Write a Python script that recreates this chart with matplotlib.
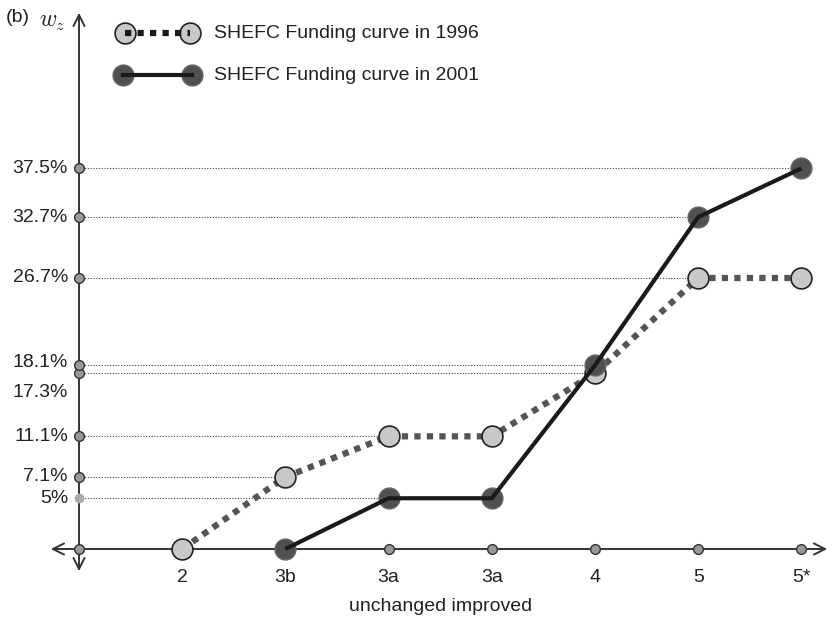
import numpy as np
import matplotlib.pyplot as plt

plt.rcParams["font.family"] = ["Liberation Sans", "DejaVu Sans"]
plt.rcParams["mathtext.fontset"] = "cm"

categories = ["2", "3b", "3a", "3a", "4", "5", "5*"]
funding_1996 = [0.0, 7.1, 11.1, 11.1, 17.3, 26.7, 26.7]
funding_2001 = [np.nan, 0.0, 5.0, 5.0, 18.1, 32.7, 37.5]
y_levels = [5.0, 7.1, 11.1, 17.3, 18.1, 26.7, 32.7, 37.5]
y_labels = ["5%", "7.1%", "11.1%", "17.3%", "18.1%", "26.7%", "32.7%", "37.5%"]
label_1996 = "SHEFC Funding curve in 1996"
label_2001 = "SHEFC Funding curve in 2001"

W, H = 835, 623
X0, XS = 79, 103.2      # pixel of origin, pixels per category
Y0, YS = 549, 10.15     # pixel of zero, pixels per percent
FS = 14

fig = plt.figure(figsize=(W / 100, H / 100), dpi=100)
ax = fig.add_axes([0, 0, 1, 1])
ax.set_xlim(-X0 / XS, (W - X0) / XS)
ax.set_ylim(-(H - Y0) / YS, Y0 / YS)
ax.axis("off")


def fig_px(x, y):
    # pixel position (from top left) -> figure fraction
    return x / W, 1 - y / H


xs = np.arange(1, len(categories) + 1)
y96 = np.array(funding_1996)
y01 = np.array(funding_2001)

axis_col = "#333333"
# axes with arrows
ax.annotate("", xy=fig_px(830, 549), xytext=fig_px(48, 549), xycoords="figure fraction",
            arrowprops=dict(arrowstyle="<->", color=axis_col, lw=1.4, mutation_scale=20))
ax.annotate("", xy=fig_px(79, 10), xytext=fig_px(79, 574), xycoords="figure fraction",
            arrowprops=dict(arrowstyle="<->", color=axis_col, lw=1.4, mutation_scale=20))

# dotted guide lines up to the first point that reaches each level
for lev in y_levels:
    hits = [x for x, a, b in zip(xs, y96, y01) if np.isclose(a, lev) or np.isclose(b, lev)]
    ax.plot([0, min(hits)], [lev, lev], color="#444444", lw=0.8,
            linestyle=(0, (1, 1.5)), zorder=1)

# markers on the axes
for lev in y_levels:
    if lev == 5.0:
        ax.plot(0, lev, "o", ms=6, mfc="#aaaaaa", mec="#aaaaaa", zorder=3)
    else:
        ax.plot(0, lev, "o", ms=7, mfc="#999999", mec="#333333", mew=1, zorder=3)
ax.plot(np.r_[0, xs], np.zeros(len(xs) + 1), "o", ls="none", ms=7,
        mfc="#999999", mec="#333333", mew=1, zorder=3)

# y tick labels (the two close ones pushed apart)
for lev, lab in zip(y_levels, y_labels):
    dy = 0
    if lab == "18.1%":
        dy = 0.3
    elif lab == "17.3%":
        dy = -1.9
    ax.text(-11 / XS, lev + dy, lab, ha="right", va="center", fontsize=FS, color="#222222")

# x tick labels
for x, lab in zip(xs, categories):
    ax.text(x, -2.8, lab, ha="center", va="center", fontsize=FS, color="#222222")
ax.text(3.5, -5.65, "unchanged improved", ha="center", va="center", fontsize=FS,
        color="#222222")

# series
ax.plot(xs, y96, color="#555555", lw=4.5, linestyle=(0, (1, 1)), dash_capstyle="butt",
        zorder=4)
ax.plot(xs, y96, "o", ls="none", ms=15, mfc="#c8c8c8", mec="#222222", mew=1.2, zorder=5)
ax.plot(xs, y01, "o", ls="none", ms=15, mfc="#505050", mec="#666666", mew=1, zorder=6)
ax.plot(xs, y01, color="#1a1a1a", lw=3, solid_capstyle="butt", zorder=7)

# legend drawn by hand
p1 = [fig_px(x, 33) for x in [125, 190]]
ax.plot([p[0] for p in p1], [p[1] for p in p1], transform=fig.transFigure, color="#1a1a1a",
        lw=4.5, linestyle=(0, (1, 1)), dash_capstyle="butt", zorder=4)
ax.plot([p[0] for p in p1], [p[1] for p in p1], "o", ls="none", transform=fig.transFigure,
        ms=15, mfc="#c8c8c8", mec="#222222", mew=1.2, zorder=3)
p2 = [fig_px(x, 75) for x in [123, 192]]
ax.plot([p[0] for p in p2], [p[1] for p in p2], "o", ls="none", transform=fig.transFigure,
        ms=15, mfc="#505050", mec="#666666", mew=1, zorder=3)
ax.plot([p[0] for p in p2], [p[1] for p in p2], transform=fig.transFigure, color="#1a1a1a",
        lw=3, zorder=4)
fig.text(*fig_px(214, 33), label_1996, ha="left", va="center", fontsize=FS, color="#222222")
fig.text(*fig_px(214, 75), label_2001, ha="left", va="center", fontsize=FS, color="#222222")

fig.text(*fig_px(6, 18), "(b)", ha="left", va="center", fontsize=FS, color="#222222")
fig.text(*fig_px(39, 22), r"$w_z$", ha="left", va="center", fontsize=17, color="#222222")

fig.savefig("out.png", dpi=100)
